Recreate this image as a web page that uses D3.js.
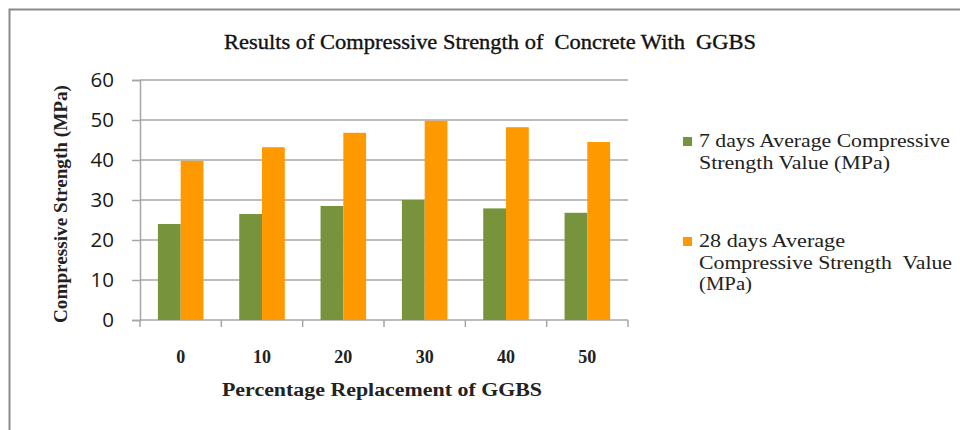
<!DOCTYPE html>
<html>
<head>
<meta charset="utf-8">
<script src="https://cdn.jsdelivr.net/npm/d3@7"></script>
<style>
  html, body { margin: 0; padding: 0; background: #fff; }
  svg { display: block; }
</style>
</head>
<body>
<svg id="chart" width="960" height="430"></svg>
<script>
// GGBS replacement levels (%)
const categories = ["0", "10", "20", "30", "40", "50"];
// Average compressive strength (MPa)
const days7 = [24, 26.5, 28.5, 30, 27.9, 26.8];
const days28 = [39.8, 43.2, 46.8, 49.8, 48.2, 44.5];
const yTicks = [0, 10, 20, 30, 40, 50, 60];
const seriesNames = [
  ["7 days Average Compressive", "Strength Value (MPa)"],
  ["28 days Average", "Compressive Strength  Value", "(MPa)"]
];
const colors = ["#77933c", "#ff9900"];

const svg = d3.select("#chart");
const serif = "'Liberation Serif', 'DejaVu Serif', serif";
const sans = "'Open Sans', 'Liberation Sans', sans-serif";

// outer frame (top and left edges)
svg.append("path")
  .attr("d", "M9.5,430 L9.5,9.5 L960,9.5")
  .attr("fill", "none")
  .attr("stroke", "#8a8a8a")
  .attr("stroke-width", 2);

const plot = { left: 140, right: 628, top: 80, bottom: 320 };

const x = d3.scaleBand()
  .domain(categories)
  .range([plot.left, plot.right])
  .paddingInner(0.44)
  .paddingOuter(0.22);
const x1 = d3.scaleBand().domain([0, 1]).range([0, x.bandwidth()]);
const y = d3.scaleLinear().domain([0, 60]).range([plot.bottom, plot.top]);

// horizontal gridlines
svg.append("g")
  .selectAll("line")
  .data(yTicks.filter(d => d > 0))
  .join("line")
  .attr("x1", plot.left)
  .attr("x2", plot.right)
  .attr("y1", d => y(d))
  .attr("y2", d => y(d))
  .attr("stroke", "#a6a6a6")
  .attr("stroke-width", 1.5);

// y axis
const yAxis = svg.append("g")
  .attr("transform", `translate(${plot.left},0)`)
  .call(d3.axisLeft(y).tickValues(yTicks).tickSize(8).tickPadding(18));
yAxis.select(".domain").attr("stroke", "#a6a6a6").attr("stroke-width", 1.5);
yAxis.selectAll(".tick line").attr("stroke", "#a6a6a6").attr("stroke-width", 1.5);
yAxis.selectAll(".tick text")
  .attr("font-family", sans)
  .attr("font-size", 20.5)
  .attr("fill", "#1a1a1a");

// x axis: tick marks at band boundaries
const bounds = d3.range(categories.length + 1)
  .map(i => plot.left + i * (plot.right - plot.left) / categories.length);
const xAxis = svg.append("g");
xAxis.append("line")
  .attr("x1", plot.left).attr("x2", plot.right)
  .attr("y1", plot.bottom).attr("y2", plot.bottom)
  .attr("stroke", "#a6a6a6").attr("stroke-width", 1.5);
xAxis.selectAll("line.tk")
  .data(bounds)
  .join("line")
  .attr("class", "tk")
  .attr("x1", d => d).attr("x2", d => d)
  .attr("y1", plot.bottom).attr("y2", plot.bottom + 7)
  .attr("stroke", "#a6a6a6").attr("stroke-width", 1.5);
xAxis.selectAll("text")
  .data(categories)
  .join("text")
  .attr("x", d => x(d) + x.bandwidth() / 2)
  .attr("y", 363)
  .attr("text-anchor", "middle")
  .attr("font-family", serif)
  .attr("font-weight", "bold")
  .attr("font-size", 18)
  .attr("fill", "#222")
  .text(d => d);

// bars
const groups = svg.append("g")
  .selectAll("g")
  .data(categories.map((c, i) => ({ c, vals: [days7[i], days28[i]] })))
  .join("g")
  .attr("transform", d => `translate(${x(d.c)},0)`);
groups.selectAll("rect")
  .data(d => d.vals.map((v, k) => ({ v, k })))
  .join("rect")
  .attr("x", d => x1(d.k))
  .attr("width", x1.bandwidth())
  .attr("y", d => y(d.v))
  .attr("height", d => y(0) - y(d.v))
  .attr("fill", d => colors[d.k]);

// title
svg.append("text")
  .attr("x", 490)
  .attr("y", 49)
  .attr("text-anchor", "middle")
  .attr("font-family", serif)
  .attr("font-size", 21)
  .attr("fill", "#111")
  .attr("stroke", "#111")
  .attr("stroke-width", 0.35)
  .attr("textLength", 532)
  .attr("lengthAdjust", "spacingAndGlyphs")
  .style("white-space", "pre")
  .text("Results of Compressive Strength of  Concrete With  GGBS");

// axis titles
svg.append("text")
  .attr("x", 382)
  .attr("y", 396)
  .attr("text-anchor", "middle")
  .attr("font-family", serif)
  .attr("font-weight", "bold")
  .attr("font-size", 18.5)
  .attr("fill", "#222")
  .attr("textLength", 320)
  .attr("lengthAdjust", "spacingAndGlyphs")
  .text("Percentage Replacement of GGBS");

svg.append("text")
  .attr("transform", "translate(67,204) rotate(-90)")
  .attr("text-anchor", "middle")
  .attr("font-family", serif)
  .attr("font-weight", "bold")
  .attr("font-size", 18)
  .attr("fill", "#222")
  .attr("textLength", 238)
  .attr("lengthAdjust", "spacingAndGlyphs")
  .text("Compressive Strength (MPa)");

// legend
const legendY = [147, 247];
const legendWidths = [[251, 191], [146, 253, 53]];
const legend = svg.append("g");
seriesNames.forEach((lines, k) => {
  legend.append("rect")
    .attr("x", 683).attr("y", legendY[k] - 10)
    .attr("width", 9).attr("height", 9)
    .attr("fill", colors[k]);
  lines.forEach((t, j) => {
    legend.append("text")
      .attr("x", 699)
      .attr("y", legendY[k] + j * 21.5)
      .attr("font-family", serif)
      .attr("font-size", 19)
      .attr("fill", "#222")
      .attr("textLength", legendWidths[k][j])
      .attr("lengthAdjust", "spacingAndGlyphs")
      .style("white-space", "pre")
      .text(t);
  });
});
</script>
</body>
</html>
